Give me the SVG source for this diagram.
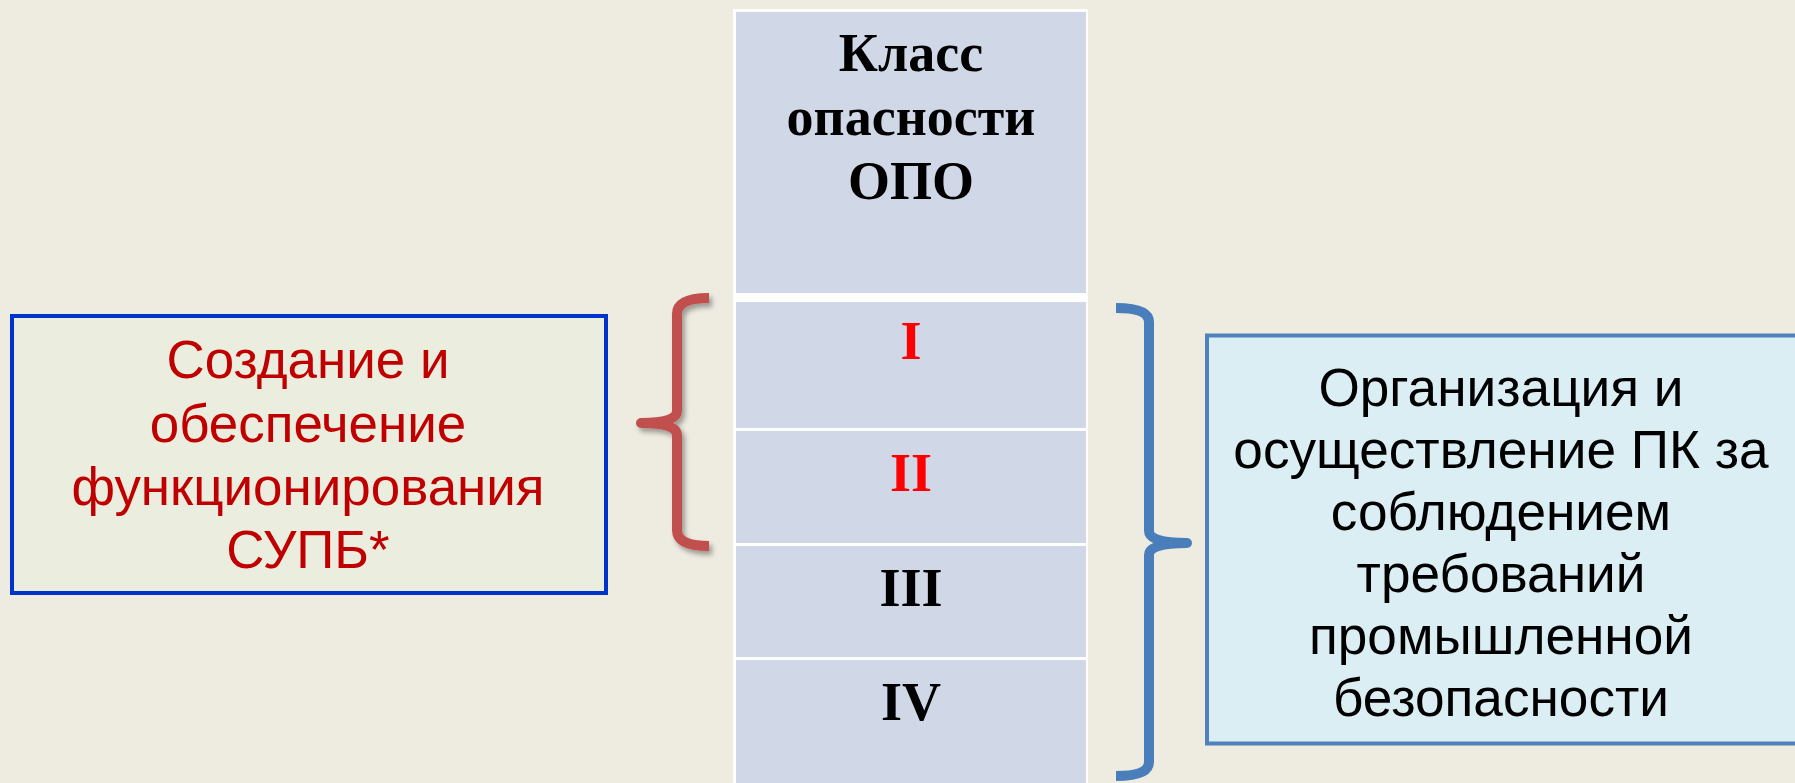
<svg xmlns="http://www.w3.org/2000/svg" width="1795" height="783" viewBox="0 0 1795 783">
<defs>
<filter id="shadow" x="-50%" y="-10%" width="200%" height="120%">
<feDropShadow dx="3" dy="4" stdDeviation="2.5" flood-color="#000" flood-opacity="0.35"/>
</filter>
<style>
.bg{fill:#EEECE1}
.cell{fill:#D0D8E8}
.hdr{font-family:"Liberation Serif","Times New Roman",serif;font-weight:bold;font-size:54px;text-anchor:middle;fill:#000}
.red{fill:#FF0000}
.sans{font-family:"Liberation Sans",Arial,sans-serif;font-size:54px;text-anchor:middle}
.brace{fill:none;stroke-width:10;stroke-linejoin:round;stroke-linecap:butt}
</style>
</defs>
<rect class="bg" x="0" y="0" width="1795" height="783"/>

<g id="table">
<rect x="733" y="9" width="355" height="780" fill="#FFFFFF"/>
<rect class="cell" x="736" y="12" width="350" height="281"/>
<rect class="cell" x="736" y="302" width="350" height="126"/>
<rect class="cell" x="736" y="431" width="350" height="112"/>
<rect class="cell" x="736" y="546" width="350" height="111"/>
<rect class="cell" x="736" y="660" width="350" height="130"/>
<text class="hdr" x="911" y="71">Класс</text>
<text class="hdr" x="911" y="135">опасности</text>
<text class="hdr" x="911" y="199">ОПО</text>
<text class="hdr red" x="911" y="359">I</text>
<text class="hdr red" x="911" y="491">II</text>
<text class="hdr" x="911" y="606">III</text>
<text class="hdr" x="911" y="720">IV</text>
</g>

<g id="left-box">
<rect x="12" y="316" width="594" height="277" fill="#EBEEDE" stroke="#0033CC" stroke-width="4"/>
<g transform="translate(308 0) scale(0.98 1) translate(-308 0)">
<text class="sans" fill="#C00000" x="308" y="378">Создание и</text>
<text class="sans" fill="#C00000" x="308" y="442">обеспечение</text>
<text class="sans" fill="#C00000" x="308" y="505">функционирования</text>
<text class="sans" fill="#C00000" x="308" y="568">СУПБ*</text>
</g>
</g>

<g id="right-box">
<rect x="1207" y="335.5" width="600" height="408" fill="#DBEEF4" stroke="#4F81BD" stroke-width="4"/>
<g transform="translate(1501 0) scale(0.985 1) translate(-1501 0)">
<text class="sans" fill="#000" x="1501" y="406">Организация и</text>
<text class="sans" fill="#000" x="1501" y="468">осуществление ПК за</text>
<text class="sans" fill="#000" x="1501" y="530">соблюдением</text>
<text class="sans" fill="#000" x="1501" y="592">требований</text>
<text class="sans" fill="#000" x="1501" y="654">промышленной</text>
<text class="sans" fill="#000" x="1501" y="716">безопасности</text>
</g>
</g>

<g id="connectors">
<path class="brace" stroke="#C0504D" filter="url(#shadow)" d="M709,298 Q677,298 677,314 L677,411 Q677,423 641,423 Q677,423 677,435 L677,530 Q677,546 709,546"/>
<path class="brace" stroke="#4A7EBB" d="M1116,308 Q1149,308 1149,322 L1149,531 Q1149,543 1187,543 Q1149,543 1149,555 L1149,762 Q1149,776 1116,776"/>
</g>
</svg>
